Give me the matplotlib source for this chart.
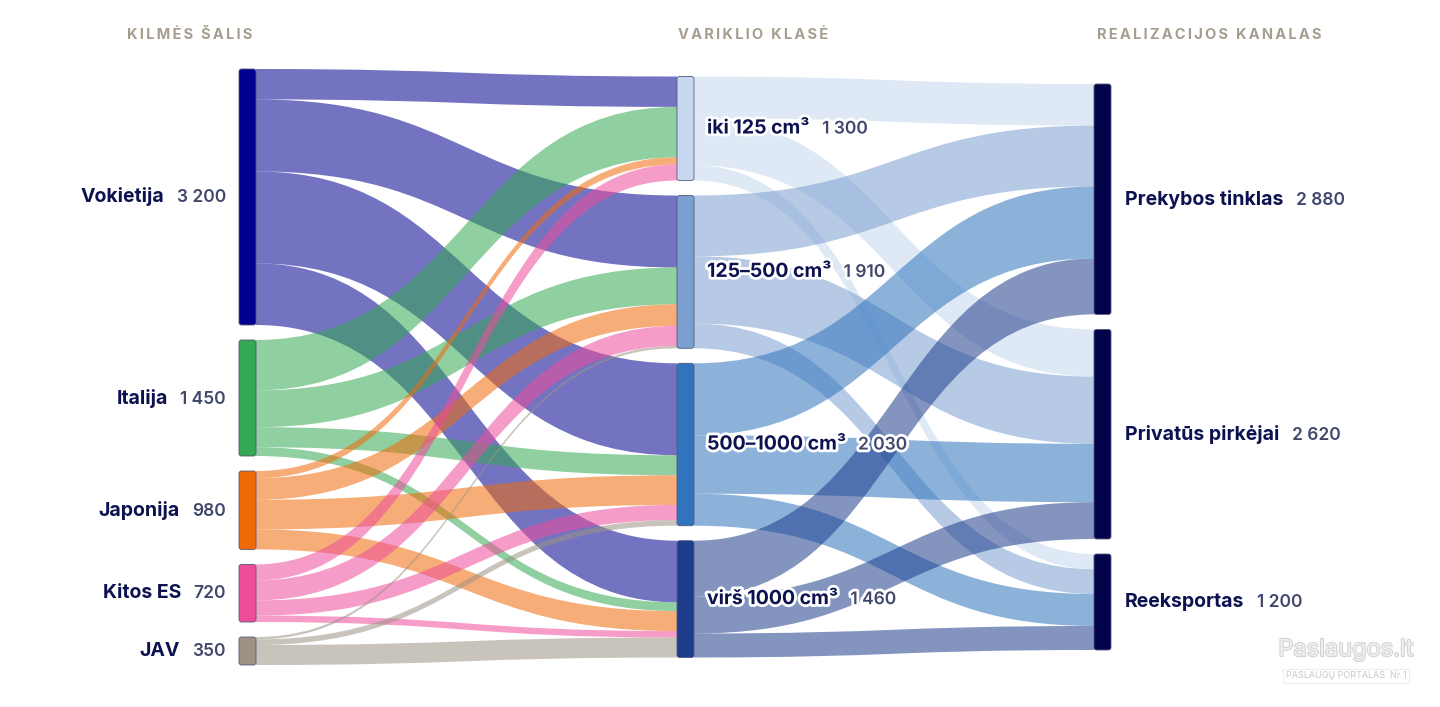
import matplotlib
matplotlib.use("Agg")
import matplotlib.pyplot as plt
import matplotlib.patheffects as pe
from matplotlib.path import Path
from matplotlib.patches import PathPatch, FancyBboxPatch
from matplotlib.offsetbox import TextArea, HPacker, AnnotationBbox

plt.rcParams['font.family'] = ['Inter', 'DejaVu Sans']

# --- data -------------------------------------------------------------
countries = ["Vokietija", "Italija", "Japonija", "Kitos ES", "JAV"]
engine_classes = ["iki 125 cm³", "125–500 cm³", "500–1000 cm³", "virš 1000 cm³"]
channels = ["Prekybos tinklas", "Privatūs pirkėjai", "Reeksportas"]

# rows: countries, cols: engine classes
country_to_engine = [
    [380, 900, 1150, 770],
    [630, 460, 250, 110],
    [90, 270, 370, 250],
    [200, 250, 190, 80],
    [0, 30, 70, 250],
]
# rows: engine classes, cols: channels
engine_to_channel = [
    [520, 590, 190],
    [760, 840, 310],
    [900, 730, 400],
    [700, 460, 300],
]
column_titles = ["KILMĖS ŠALIS", "VARIKLIO KLASĖ", "REALIZACIJOS KANALAS"]

country_colors = ["#00008f", "#34a853", "#f06a0a", "#ee4d9b", "#9c9384"]
engine_colors = ["#c5d8f0", "#7a9fd0", "#2f74bd", "#1e3c8c"]
channel_colors = ["#03034b", "#03034b", "#03034b"]

NAME_COLOR = "#0c1150"
VALUE_COLOR = "#40476a"
TITLE_COLOR = "#a69d8f"
LINK_ALPHA = 0.55


def fmt(v):
    return f"{v:,}".replace(",", " ")


# --- layout -----------------------------------------------------------
W, H = 1440, 707
col_x = [239, 677, 1094]
title_x = [190, 753, 1209]
node_w = 17
pad = 15
center_y = 367
max_height = 596

country_tot = [sum(r) for r in country_to_engine]
engine_tot = [sum(country_to_engine[i][j] for i in range(len(countries)))
              for j in range(len(engine_classes))]
channel_tot = [sum(engine_to_channel[i][j] for i in range(len(engine_classes)))
               for j in range(len(channels))]

k = (max_height - pad * (len(countries) - 1)) / sum(country_tot)


def stack(totals):
    hs = [t * k for t in totals]
    full = sum(hs) + pad * (len(hs) - 1)
    y = center_y - full / 2
    tops = []
    for h in hs:
        tops.append(y)
        y += h + pad
    return tops, hs


fig = plt.figure(figsize=(W / 100, H / 100), dpi=100)
ax = fig.add_axes([0, 0, 1, 1])
ax.set_xlim(0, W)
ax.set_ylim(H, 0)
ax.axis("off")


def draw_link(x0, y0a, y0b, x1, y1a, y1b, color):
    xm = (x0 + x1) / 2
    verts = [(x0, y0a), (xm, y0a), (xm, y1a), (x1, y1a),
             (x1, y1b), (xm, y1b), (xm, y0b), (x0, y0b), (x0, y0a)]
    codes = [Path.MOVETO, Path.CURVE4, Path.CURVE4, Path.CURVE4,
             Path.LINETO, Path.CURVE4, Path.CURVE4, Path.CURVE4, Path.CLOSEPOLY]
    ax.add_patch(PathPatch(Path(verts, codes), facecolor=color, edgecolor="none",
                           alpha=LINK_ALPHA, zorder=1))


def draw_flows(matrix, src_x, src_tops, dst_x, dst_tops, colors):
    n_src, n_dst = len(matrix), len(matrix[0])
    src_off = list(src_tops)
    dst_off = list(dst_tops)
    for i in range(n_src):
        for j in range(n_dst):
            v = matrix[i][j]
            if v <= 0:
                continue
            h = v * k
            draw_link(src_x + node_w, src_off[i], src_off[i] + h,
                      dst_x, dst_off[j], dst_off[j] + h, colors[i])
            src_off[i] += h
            dst_off[j] += h


def draw_nodes(x, tops, hs, colors):
    for t, h, c in zip(tops, hs, colors):
        ax.add_patch(FancyBboxPatch((x, t), node_w, h,
                                    boxstyle="round,pad=0,rounding_size=2.5",
                                    facecolor=c, edgecolor="#55597a", linewidth=0.6,
                                    zorder=3))


def draw_label(name, value, x, y, align, halo=False):
    extra = {}
    if halo:
        extra = dict(path_effects=[pe.withStroke(linewidth=4, foreground="white")])
    name_box = TextArea(name, textprops=dict(color=NAME_COLOR, fontsize=14,
                                             fontweight="bold", **extra))
    val_box = TextArea(fmt(value), textprops=dict(color=VALUE_COLOR, fontsize=12.5,
                                                  fontweight="semibold", **extra))
    box = HPacker(children=[name_box, val_box], sep=9, align="baseline", pad=0)
    ab = AnnotationBbox(box, (x, y), xycoords="data", box_alignment=(align, 0.5),
                        frameon=False, pad=0, zorder=5)
    ax.add_artist(ab)


c_tops, c_hs = stack(country_tot)
e_tops, e_hs = stack(engine_tot)
r_tops, r_hs = stack(channel_tot)

draw_flows(country_to_engine, col_x[0], c_tops, col_x[1], e_tops, country_colors)
draw_flows(engine_to_channel, col_x[1], e_tops, col_x[2], r_tops, engine_colors)

draw_nodes(col_x[0], c_tops, c_hs, country_colors)
draw_nodes(col_x[1], e_tops, e_hs, engine_colors)
draw_nodes(col_x[2], r_tops, r_hs, channel_colors)

for name, v, t, h in zip(countries, country_tot, c_tops, c_hs):
    draw_label(name, v, col_x[0] - 13, t + h / 2, 1)
for name, v, t, h in zip(engine_classes, engine_tot, e_tops, e_hs):
    draw_label(name, v, col_x[1] + node_w + 13, t + h / 2, 0, halo=True)
for name, v, t, h in zip(channels, channel_tot, r_tops, r_hs):
    draw_label(name, v, col_x[2] + node_w + 14, t + h / 2, 0)

for title, x in zip(column_titles, title_x):
    ax.text(x, 35, "\u200a\u200a".join(title).replace("\u200a\u200a \u200a\u200a", "\u2009 \u2009"),
            ha="center", va="center",
            fontsize=10.5, fontweight="bold", color=TITLE_COLOR)

# watermark
ax.text(1346, 650, "Paslaugos.lt", ha="center", va="center", fontsize=17,
        color="#eeeeee", zorder=6,
        path_effects=[pe.withStroke(linewidth=1.5, foreground="#d4d4d4")])
ax.text(1346, 676, "PASLAUGŲ PORTALAS  Nr.1", ha="center", va="center",
        fontsize=6.5, color="#c8c8c8", zorder=6,
        bbox=dict(boxstyle="square,pad=0.3", facecolor="white",
                  edgecolor="#eeeeee", linewidth=0.8))

fig.savefig("out.png", dpi=100, facecolor="white")
